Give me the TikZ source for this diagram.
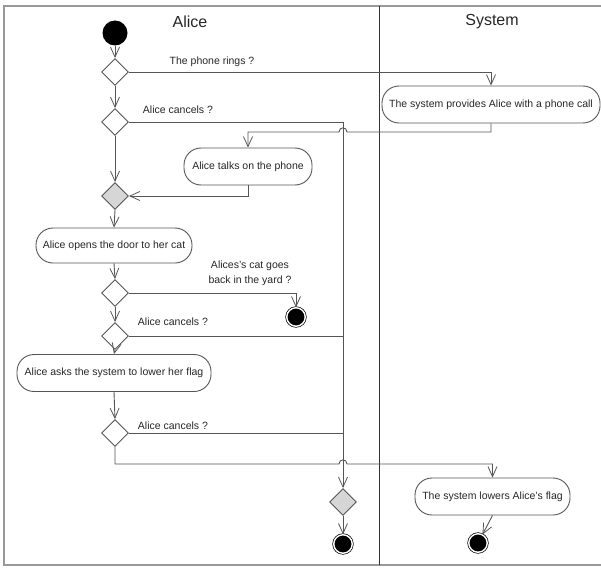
\documentclass[tikz,border=0pt]{standalone}
\usepackage{fontspec}
\setmainfont{Liberation Sans}
\usetikzlibrary{shapes.geometric,arrows.meta}
\definecolor{lineg}{HTML}{555555}
\definecolor{frameg}{HTML}{999999}
\definecolor{mergeg}{HTML}{D6D6D6}
\tikzset{
  actbox/.style={draw=lineg, line width=0.9pt, rounded corners=17pt, minimum height=37pt, inner sep=0pt, font=\fontsize{10.5}{12}\selectfont, text=black!85},
  decbox/.style={diamond, draw=lineg, line width=0.9pt, fill=white, minimum width=27pt, minimum height=27pt, inner sep=0pt},
  mergebox/.style={decbox, fill=mergeg},
  startdot/.style={circle, fill=black, minimum size=25pt, inner sep=0pt},
  enddot/.style={circle, fill=black, draw=black, double=white, double distance=1.4pt, line width=0.7pt, minimum size=18.5pt, inner sep=0pt},
  flow/.style={draw=lineg, line width=0.9pt, -{Straight Barb[length=10pt,width=9pt,line width=0.8pt]}},
  plainflow/.style={draw=lineg, line width=0.9pt},
  guard/.style={font=\fontsize{10.5}{12}\selectfont, text=black!85, inner sep=0pt},
  lanetitle/.style={font=\fontsize{16}{18}\selectfont, text=black!85, inner sep=0pt}
}
\begin{document}
\begin{tikzpicture}[x=1pt,y=-1pt]
\useasboundingbox (0,0) rectangle (601,567);
% frame and lanes
\draw[frameg, line width=1.2pt] (601,6) -- (4,6) -- (4,565) -- (601,565);
\draw[black!80, line width=0.9pt] (379,6) -- (379,565);
\node[lanetitle] (tAlice) at (190,22) {Alice};
\node[lanetitle] (tSystem) at (492,22) {System};
% nodes
\node[startdot] (start) at (115,33) {};
\node[decbox] (d1) at (115,72) {};
\node[decbox] (d2) at (115,122) {};
\node[actbox, minimum width=218pt] (s1) at (491,104.5) {The system provides Alice with a phone call};
\node[actbox, minimum width=128pt] (a1) at (248,166.5) {Alice talks on the phone};
\node[mergebox] (m1) at (115,196) {};
\node[actbox, minimum width=156pt, minimum height=35pt] (a2) at (114,245.5) {Alice opens the door to her cat};
\node[decbox] (d3) at (115,293) {};
\node[enddot] (f1) at (296,317) {};
\node[decbox] (d4) at (115,336) {};
\node[actbox, minimum width=194pt] (a3) at (114,373) {Alice asks the system to lower her flag};
\node[decbox] (d5) at (115,433) {};
\node[mergebox] (m2) at (343,502) {};
\node[enddot] (f2) at (343,544) {};
\node[actbox, minimum width=155pt] (s2) at (492.5,496.5) {The system lowers Alice's flag};
\node[enddot] (f3) at (478,543) {};
% guards
\node[guard] (g1) at (212,62) {The phone rings ?};
\node[guard] (g2) at (178,110) {Alice cancels ?};
\node[guard, align=center, font=\fontsize{10.5}{15}\selectfont] (g3) at (250,273) {Alices's cat goes\\back in the yard ?};
\node[guard] (g4) at (173,322) {Alice cancels ?};
\node[guard] (g5) at (173,426) {Alice cancels ?};
% connectors
\draw[flow] (start) -- (d1.north);
\draw[flow] (d1.east) -| (s1.north);
\draw[flow] (d1.south) -- (d2.north);
\draw[flow] (d2.east) -| (m2.north);
\coordinate (h1r) at (347,132);
\coordinate (h1l) at (339,132);
\draw[flow] (s1.south) |- (h1r) .. controls (347,126.5) and (339,126.5) .. (h1l) -| (a1.north);
\draw[flow] (d2.south) -- (m1.north);
\draw[flow] (a1.south) |- (m1.east);
\draw[flow] (m1.south) -- (a2.north);
\draw[flow] (a2.south) -- (d3.north);
\draw[flow] (d3.east) -| (f1.north);
\draw[flow] (d3.south) -- (d4.north);
\draw[plainflow] (d4.east) -- (d4.east -| m2.north);
\draw[flow] (d4.south) -- (a3.north);
\draw[flow] (a3.south) -- (d5.north);
\draw[plainflow] (d5.east) -- (d5.east -| m2.north);
\coordinate (h2l) at (339,464);
\coordinate (h2r) at (347,464);
\draw[flow] (d5.south) |- (h2l) .. controls (339,458.5) and (347,458.5) .. (h2r) -| (s2.north);
\draw[flow] (m2.south) -- (f2.north);
\draw[flow] (s2.south) -- (f3);
\end{tikzpicture}
\end{document}
